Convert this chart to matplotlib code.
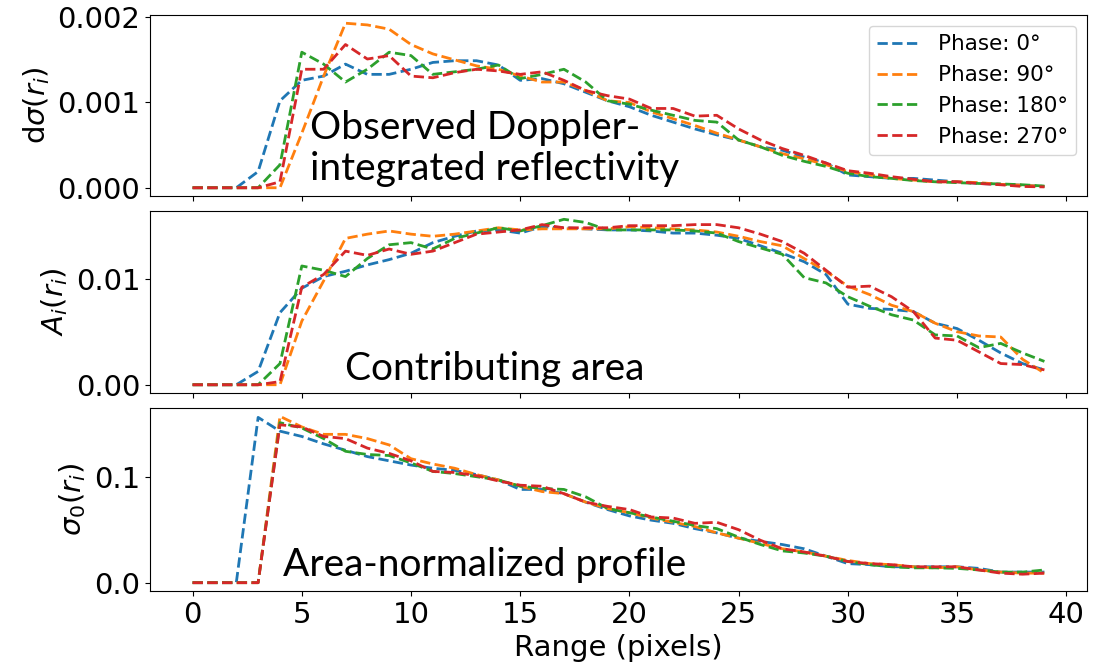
import numpy as np
import matplotlib.pyplot as plt

# диапазон в пикселях
rng = np.arange(40)

phases = ["Phase: 0°", "Phase: 90°", "Phase: 180°", "Phase: 270°"]
colors = ["tab:blue", "tab:orange", "tab:green", "tab:red"]

# dσ(r_i), в единицах 1e-3
dsig_0 = [0, 0, 0, 0.19, 1.02, 1.26, 1.31, 1.45, 1.33, 1.33, 1.39, 1.47, 1.49, 1.49, 1.44, 1.26, 1.28, 1.22, 1.12, 1.02,
          0.95, 0.85, 0.77, 0.69, 0.62, 0.56, 0.48, 0.44, 0.36, 0.29, 0.15, 0.13, 0.11, 0.11, 0.09, 0.07, 0.05, 0.04, 0.03, 0.015]
dsig_90 = [0, 0, 0, 0, 0, 0.64, 1.31, 1.93, 1.91, 1.86, 1.68, 1.57, 1.50, 1.43, 1.39, 1.31, 1.24, 1.24, 1.14, 1.02,
           1.00, 0.89, 0.81, 0.73, 0.64, 0.56, 0.48, 0.40, 0.34, 0.27, 0.19, 0.15, 0.11, 0.09, 0.07, 0.07, 0.06, 0.04, 0.03, 0.015]
dsig_180 = [0, 0, 0, 0, 0.27, 1.59, 1.45, 1.24, 1.39, 1.59, 1.55, 1.33, 1.36, 1.39, 1.44, 1.28, 1.33, 1.39, 1.24, 1.02,
            0.98, 0.91, 0.85, 0.79, 0.77, 0.56, 0.48, 0.38, 0.31, 0.25, 0.17, 0.13, 0.11, 0.085, 0.07, 0.06, 0.05, 0.045, 0.035, 0.02]
dsig_270 = [0, 0, 0, 0, 0.07, 1.39, 1.39, 1.68, 1.51, 1.55, 1.31, 1.29, 1.35, 1.39, 1.37, 1.33, 1.36, 1.26, 1.14, 1.08,
            1.04, 0.93, 0.93, 0.84, 0.85, 0.69, 0.56, 0.46, 0.38, 0.29, 0.20, 0.17, 0.13, 0.10, 0.07, 0.07, 0.05, 0.035, 0.015, 0.01]

# A_i(r_i), в единицах 1e-2
area_0 = [0, 0, 0, 0.126, 0.68, 0.91, 1.02, 1.07, 1.13, 1.18, 1.24, 1.34, 1.40, 1.45, 1.46, 1.43, 1.49, 1.48, 1.47, 1.46,
          1.46, 1.45, 1.43, 1.43, 1.41, 1.38, 1.31, 1.24, 1.16, 1.04, 0.76, 0.72, 0.71, 0.69, 0.58, 0.53, 0.42, 0.30, 0.20, 0.14]
area_90 = [0, 0, 0, 0, 0, 0.60, 0.98, 1.38, 1.42, 1.45, 1.42, 1.40, 1.42, 1.45, 1.48, 1.46, 1.47, 1.47, 1.47, 1.47,
           1.49, 1.48, 1.47, 1.46, 1.44, 1.40, 1.35, 1.31, 1.19, 1.07, 0.93, 0.85, 0.75, 0.69, 0.58, 0.50, 0.46, 0.45, 0.24, 0.11]
area_180 = [0, 0, 0, 0, 0.20, 1.12, 1.08, 1.02, 1.19, 1.32, 1.34, 1.28, 1.38, 1.43, 1.48, 1.45, 1.50, 1.56, 1.53, 1.46,
            1.46, 1.46, 1.46, 1.45, 1.43, 1.35, 1.29, 1.23, 1.01, 0.96, 0.83, 0.74, 0.66, 0.61, 0.47, 0.46, 0.35, 0.39, 0.30, 0.22]
area_270 = [0, 0, 0, 0, 0.03, 0.92, 1.04, 1.26, 1.22, 1.28, 1.23, 1.26, 1.34, 1.42, 1.44, 1.46, 1.51, 1.48, 1.48, 1.48,
            1.50, 1.50, 1.50, 1.51, 1.51, 1.48, 1.42, 1.35, 1.24, 1.08, 0.92, 0.93, 0.83, 0.69, 0.44, 0.42, 0.31, 0.20, 0.19, 0.14]

# σ0(r_i)
sig0_0 = [0, 0, 0, 0.156, 0.143, 0.138, 0.131, 0.125, 0.119, 0.115, 0.111, 0.108, 0.106, 0.102, 0.097, 0.088, 0.088, 0.084, 0.076, 0.069,
          0.063, 0.059, 0.056, 0.051, 0.047, 0.042, 0.039, 0.036, 0.032, 0.025, 0.018, 0.017, 0.015, 0.015, 0.015, 0.015, 0.0135, 0.010, 0.010, 0.010]
sig0_90 = [0, 0, 0, 0, 0.157, 0.147, 0.140, 0.140, 0.136, 0.130, 0.117, 0.112, 0.108, 0.102, 0.097, 0.091, 0.086, 0.084, 0.076, 0.070,
           0.066, 0.061, 0.057, 0.053, 0.047, 0.042, 0.037, 0.032, 0.029, 0.025, 0.021, 0.018, 0.017, 0.015, 0.014, 0.015, 0.012, 0.010, 0.009, 0.009]
sig0_180 = [0, 0, 0, 0, 0.151, 0.146, 0.136, 0.124, 0.121, 0.120, 0.113, 0.105, 0.103, 0.100, 0.097, 0.091, 0.089, 0.088, 0.081, 0.070,
            0.066, 0.062, 0.058, 0.054, 0.051, 0.043, 0.036, 0.030, 0.028, 0.025, 0.020, 0.017, 0.015, 0.014, 0.014, 0.0135, 0.012, 0.010, 0.010, 0.012]
sig0_270 = [0, 0, 0, 0, 0.149, 0.147, 0.138, 0.136, 0.127, 0.122, 0.115, 0.105, 0.104, 0.101, 0.096, 0.092, 0.091, 0.084, 0.076, 0.072,
            0.069, 0.062, 0.061, 0.056, 0.057, 0.050, 0.040, 0.032, 0.029, 0.025, 0.020, 0.018, 0.017, 0.015, 0.015, 0.015, 0.012, 0.009, 0.008, 0.009]

dsig = [np.array(d) * 1e-3 for d in (dsig_0, dsig_90, dsig_180, dsig_270)]
area = [np.array(a) * 1e-2 for a in (area_0, area_90, area_180, area_270)]
sig0 = [np.array(s) for s in (sig0_0, sig0_90, sig0_180, sig0_270)]

fig = plt.figure(figsize=(10.95, 6.63), dpi=100)
ax1 = fig.add_axes([0.137, 0.7044, 0.8557, 0.2730])
ax2 = fig.add_axes([0.137, 0.4072, 0.8557, 0.2745], sharex=ax1)
ax3 = fig.add_axes([0.137, 0.1086, 0.8557, 0.2760], sharex=ax1)

for ax, data in ((ax1, dsig), (ax2, area), (ax3, sig0)):
    for y, c, lab in zip(data, colors, phases):
        ax.plot(rng, y, '--', color=c, lw=2, label=lab)
    ax.tick_params(labelsize=21)

ax1.set_yticks([0, 0.001, 0.002])
ax2.set_yticks([0, 0.01])
ax3.set_yticks([0, 0.1])
ax3.set_xticks(range(0, 41, 5))
ax1.tick_params(labelbottom=False)
ax2.tick_params(labelbottom=False)

ax1.set_ylabel(r'd$\sigma(r_i)$', fontsize=21)
ax2.set_ylabel(r'$A_i(r_i)$', fontsize=21)
ax3.set_ylabel(r'$\sigma_0(r_i)$', fontsize=21)
ax3.set_xlabel('Range (pixels)', fontsize=21)

ax1.legend(loc='upper right', fontsize=15.5)

# подписи панелей
fig.text(0.283, 0.790, 'Observed Doppler-', family='Lato', fontsize=28, va='baseline')
fig.text(0.283, 0.7285, 'integrated reflectivity', family='Lato', fontsize=28, va='baseline')
fig.text(0.315, 0.427, 'Contributing area', family='Lato', fontsize=28, va='baseline')
fig.text(0.258, 0.131, 'Area-normalized profile', family='Lato', fontsize=28, va='baseline')

plt.savefig('out.png', dpi=100)
